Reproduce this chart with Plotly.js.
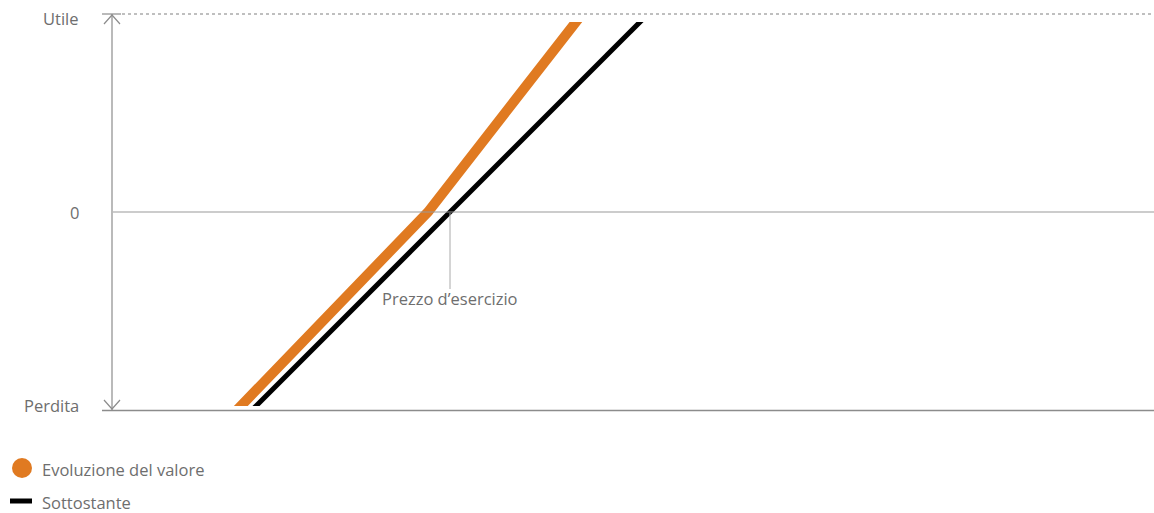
<!DOCTYPE html>
<html><head><meta charset="utf-8">
<script src="https://cdn.plot.ly/plotly-3.0.1.min.js"></script>
<style>html,body{margin:0;padding:0;background:#fff}#chart{width:1154px;height:513px}</style>
</head><body><div id="chart"></div>
<script>
// Data
const strikePrice = 100;
const valueX = [45.3, 94.5, 134.2];  // Evoluzione del valore
const valueY = [-51, 0, 51];
const underlyingX = [49, 151];       // Sottostante
const underlyingY = [-51, 51];
const yTickLabels = ['Utile', '0', 'Perdita'];
const seriesNames = ['Evoluzione del valore', 'Sottostante'];
const strikeLabel = 'Prezzo d\u2019esercizio';

const W = 1154, H = 513;
const px = x => x / W;
const py = y => 1 - y / H;
const gray = '#8c8c8c', textGray = '#6e6e6e';
const font = {family: 'Open Sans, sans-serif', size: 16.5, color: textGray};

const traces = [
  {x: underlyingX, y: underlyingY, xaxis:'x', yaxis:'y2', mode: 'lines', line: {color: '#000000', width: 5}, name: seriesNames[1], hoverinfo: 'skip'},
  {x: valueX, y: valueY, xaxis:'x', yaxis:'y2', mode: 'lines', line: {color: '#e07a21', width: 10}, name: seriesNames[0], hoverinfo: 'skip'}
];

const XR = [15.75, 276.0], YR = [-49.5, 49.5];
const Y2R = [(212 - 406) / 4, (212 - 22) / 4];
const shapes = [
  {type:'line', xref:'paper', yref:'paper', x0:px(122), x1:px(1154), y0:py(14), y1:py(14), line:{color:'#aaaaaa', width:1.5, dash:'dot'}},
  {type:'line', xref:'paper', yref:'y', x0:px(113), x1:px(1154), y0:0, y1:0, line:{color:'#999999', width:1}},
  {type:'line', xref:'paper', yref:'paper', x0:px(102), x1:px(1154), y0:py(410.5), y1:py(410.5), line:{color:gray, width:1.5}},
  {type:'line', xref:'paper', yref:'paper', x0:px(112), x1:px(112), y0:py(14), y1:py(410), line:{color:gray, width:1.2}},
  {type:'line', xref:'paper', yref:'paper', x0:px(102), x1:px(121), y0:py(14), y1:py(14), line:{color:gray, width:1.2}},
  {type:'path', xref:'paper', yref:'paper', path:`M ${px(104)} ${py(24)} L ${px(112)} ${py(15)} L ${px(120)} ${py(24)}`, line:{color:gray, width:1.2}},
  {type:'path', xref:'paper', yref:'paper', path:`M ${px(104)} ${py(400)} L ${px(112)} ${py(409)} L ${px(120)} ${py(400)}`, line:{color:gray, width:1.2}},
  {type:'line', xref:'x', yref:'paper', x0:strikePrice, x1:strikePrice, y0:py(213), y1:py(289), line:{color:'#aaaaaa', width:1}},
  {type:'circle', xref:'paper', yref:'paper', x0:px(12), x1:px(32), y0:py(458), y1:py(478), fillcolor:'#e07a21', line:{width:0}},
  {type:'line', xref:'paper', yref:'paper', x0:px(10), x1:px(32), y0:py(501), y1:py(501), line:{color:'#000', width:5}}
];

const annotations = [
  {text: yTickLabels[0], xref:'paper', yref:'paper', x:px(81), y:py(19), xanchor:'right', yanchor:'middle', showarrow:false, font},
  {text: yTickLabels[1], xref:'paper', yref:'y', x:px(81), y:0, xanchor:'right', yanchor:'middle', showarrow:false, font},
  {text: yTickLabels[2], xref:'paper', yref:'paper', x:px(81), y:py(405), xanchor:'right', yanchor:'middle', showarrow:false, font},
  {text: strikeLabel, xref:'x', yref:'paper', x:strikePrice, y:py(298), xanchor:'center', yanchor:'middle', showarrow:false, font},
  {text: seriesNames[0], xref:'paper', yref:'paper', x:px(40), y:py(469), xanchor:'left', yanchor:'middle', showarrow:false, font},
  {text: seriesNames[1], xref:'paper', yref:'paper', x:px(40), y:py(502), xanchor:'left', yanchor:'middle', showarrow:false, font}
];

const layout = {
  width: W, height: H,
  margin: {l:0, r:0, t:0, b:0},
  paper_bgcolor:'#fff', plot_bgcolor:'rgba(0,0,0,0)',
  showlegend: false,
  xaxis: {domain:[113/W, 1], range: XR, visible:false, fixedrange:true},
  yaxis: {domain:[1-410/H, 1-14/H], range: YR, visible:false, fixedrange:true},
  yaxis2: {domain:[1-406/H, 1-22/H], range: Y2R, visible:false, fixedrange:true, anchor:'x'},
  shapes, annotations
};
Plotly.newPlot('chart', traces, layout, {displayModeBar:false, staticPlot:true});
</script></body></html>
